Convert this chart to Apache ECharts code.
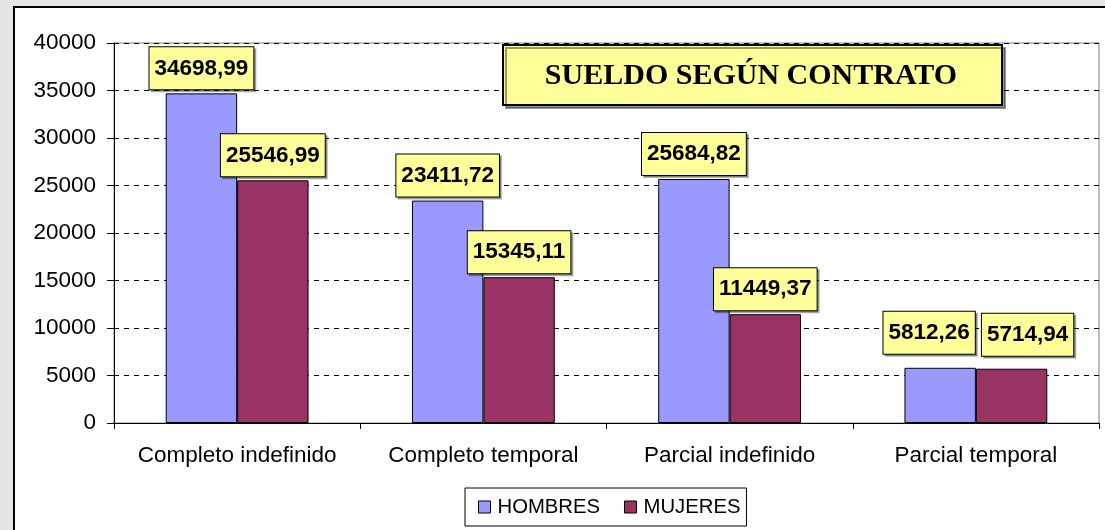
<!DOCTYPE html>
<html>
<head>
<meta charset="utf-8">
<script src="https://cdn.jsdelivr.net/npm/echarts@6/dist/echarts.min.js"></script>
<style>
html, body { margin: 0; padding: 0; background: #e6e6e6; }
#chart { width: 1105px; height: 530px; }
</style>
</head>
<body>
<div id="chart"></div>
<script>
var categories = ['Completo indefinido', 'Completo temporal', 'Parcial indefinido', 'Parcial temporal'];
var hombres = [34698.99, 23411.72, 25684.82, 5812.26];
var mujeres = [25546.99, 15345.11, 11449.37, 5714.94];
var seriesNames = ['HOMBRES', 'MUJERES'];
var titleText = 'SUELDO SEGÚN CONTRATO';

var myChart = echarts.init(document.getElementById('chart'));

var fmt = function (p) {
    return p.value.toFixed(2).replace('.', ',');
};

var labelStyle = {
    show: true,
    position: 'top',
    distance: 4,
    formatter: fmt,
    fontFamily: 'Liberation Sans',
    fontWeight: 'bold',
    fontSize: 22.5,
    lineHeight: 24,
    color: '#000',
    backgroundColor: '#FFFF99',
    borderColor: '#000',
    borderWidth: 1,
    padding: [9, 5],
    shadowColor: 'rgba(0,0,0,0.3)',
    shadowOffsetX: 2,
    shadowOffsetY: 2,
    shadowBlur: 0
};

// the last pair of labels is pushed apart, like the original
var buildData = function (arr, lastOffset) {
    return arr.map(function (v, i) {
        if (i === arr.length - 1) {
            return { value: v, label: { offset: lastOffset } };
        }
        return v;
    });
};

var option = {
    animation: false,
    backgroundColor: '#e6e6e6',
    graphic: [
        {
            type: 'rect',
            z: -10,
            silent: true,
            shape: { x: 14, y: 7, width: 1200, height: 600 },
            style: { fill: '#fff', stroke: '#000', lineWidth: 2 }
        },
        {
            type: 'rect',
            z: 50,
            shape: { x: 503, y: 45, width: 499, height: 60 },
            style: {
                fill: '#FFFF99', stroke: '#000', lineWidth: 2,
                shadowColor: 'rgba(0,0,0,0.4)', shadowOffsetX: 3, shadowOffsetY: 3, shadowBlur: 0
            }
        },
        {
            type: 'text',
            z: 51,
            x: 751,
            y: 76,
            style: {
                text: titleText,
                fontFamily: 'Liberation Serif',
                fontWeight: 'bold',
                fontSize: 30,
                fill: '#000',
                align: 'center',
                verticalAlign: 'middle'
            }
        }
    ],
    legend: {
        data: seriesNames,
        left: 465,
        top: 488,
        padding: [8, 6, 8, 13],
        itemGap: 24,
        itemWidth: 12,
        itemHeight: 12,
        borderColor: '#000',
        borderWidth: 1,
        backgroundColor: '#fff',
        icon: 'rect',
        itemStyle: { borderColor: '#000', borderWidth: 1 },
        textStyle: {
            fontFamily: 'Liberation Sans',
            fontSize: 20.3,
            lineHeight: 22,
            color: '#000',
            padding: [0, 0, 0, 2]
        }
    },
    grid: {
        left: 114,
        right: 6,
        top: 43,
        bottom: 107,
        show: true,
        borderColor: '#808080',
        borderWidth: 1
    },
    xAxis: {
        type: 'category',
        data: categories,
        axisLine: { lineStyle: { color: '#000', width: 1 } },
        axisTick: { show: true, interval: 0, length: 6, lineStyle: { color: '#000' } },
        axisLabel: {
            interval: 0,
            fontFamily: 'Liberation Sans',
            fontSize: 22.5,
            lineHeight: 22,
            color: '#000',
            margin: 22
        }
    },
    yAxis: {
        type: 'value',
        min: 0,
        max: 40000,
        interval: 5000,
        axisLine: { show: true, lineStyle: { color: '#000', width: 1 } },
        axisTick: { show: true, length: 7, lineStyle: { color: '#000' } },
        axisLabel: {
            fontFamily: 'Liberation Sans',
            fontSize: 22.5,
            color: '#000',
            margin: 18,
            formatter: function (v) { return String(v); }
        },
        splitLine: {
            show: true,
            lineStyle: { type: [5, 5], color: '#000', width: 1 }
        }
    },
    series: [
        {
            name: seriesNames[0],
            type: 'bar',
            barGap: 0,
            barCategoryGap: '42%',
            itemStyle: { color: '#9999FF', borderColor: '#000', borderWidth: 1 },
            label: labelStyle,
            data: buildData(hombres, [-11, -10])
        },
        {
            name: seriesNames[1],
            type: 'bar',
            barGap: 0,
            barCategoryGap: '42%',
            itemStyle: { color: '#993366', borderColor: '#000', borderWidth: 1 },
            label: labelStyle,
            data: buildData(mujeres, [16, -9])
        }
    ]
};

myChart.setOption(option);
</script>
</body>
</html>
